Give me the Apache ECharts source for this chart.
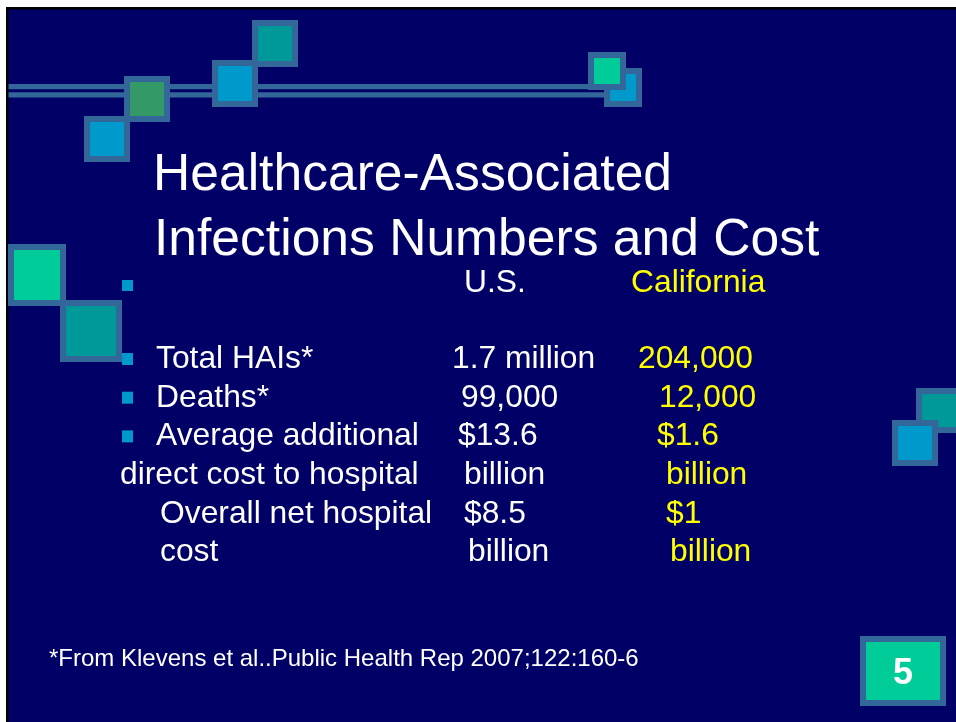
<!DOCTYPE html>
<html>
<head>
<meta charset="utf-8">
<script src="https://cdn.jsdelivr.net/npm/echarts@6/dist/echarts.min.js"></script>
<style>
html,body{margin:0;padding:0;background:#ffffff;}
#chart{width:956px;height:722px;}
</style>
</head>
<body>
<div id="chart"></div>
<script>
// ---- content ----
const titleLines = ['Healthcare-Associated', 'Infections Numbers and Cost'];
const columnHeaders = ['U.S.', 'California'];
const rowLabels = ['Total HAIs*', 'Deaths*', 'Average additional', 'direct cost to hospital', 'Overall net hospital', 'cost'];
const bulletRows = [true, true, true, false, false, false];
const usValues = ['1.7 million', '99,000', '$13.6', 'billion', '$8.5', 'billion'];
const caValues = ['204,000', '12,000', '$1.6', 'billion', '$1', 'billion'];
const footnote = '*From Klevens et al..Public Health Rep 2007;122:160-6';
const slideNumber = '5';

// ---- layout (kept apart from content) ----
const NAVY = '#000066', EDGE = '#336699', BLUE = '#0099CC', TEAL = '#009999', MINT = '#00CC99', GREEN = '#339966';
const labelX = [156, 156, 156, 120, 160, 160];
const usX = [452, 461, 458, 464, 464, 468];
const caX = [638, 659, 657, 666, 666, 670];
const rowBase0 = 369, rowStep = 38.7;
const bodyFont = 31.8, FONT = '"Liberation Sans", Arial, sans-serif';

const deco = [
  [84, 116, 130, 162, BLUE],
  [124, 76, 170, 122, GREEN],
  [212, 60, 258, 107, BLUE],
  [252, 20, 298, 67, TEAL],
  [604, 68, 642, 107, BLUE],
  [588, 52, 626, 90, MINT],
  [8, 244, 66, 306, MINT],
  [60, 300, 122, 362, TEAL],
  [916, 388, 962, 433, TEAL],
  [892, 420, 938, 466, BLUE]
];

function txt(str, x, baseline, size, color, weight, align) {
  return {
    type: 'text', x: x, y: baseline - size * 0.31, silent: true,
    style: {
      text: str, fill: color,
      font: (weight || 'normal') + ' ' + size + 'px ' + FONT,
      align: align || 'left', textAlign: align || 'left',
      verticalAlign: 'middle', textVerticalAlign: 'middle'
    }
  };
}
function box(x0, y0, x1, y1, color, inset) {
  return [
    { type: 'rect', silent: true, shape: { x: x0, y: y0, width: x1 - x0, height: y1 - y0 }, style: { fill: EDGE } },
    { type: 'rect', silent: true, shape: { x: x0 + inset, y: y0 + inset, width: x1 - x0 - 2 * inset, height: y1 - y0 - 2 * inset }, style: { fill: color } }
  ];
}

const els = [];
els.push({ type: 'rect', silent: true, shape: { x: 6, y: 7, width: 960, height: 720 }, style: { fill: '#000000' } });
els.push({ type: 'rect', silent: true, shape: { x: 8.5, y: 9.5, width: 960, height: 720 }, style: { fill: NAVY } });
// horizontal rails
els.push({ type: 'rect', silent: true, shape: { x: 8.5, y: 84, width: 598, height: 5.3 }, style: { fill: EDGE } });
els.push({ type: 'rect', silent: true, shape: { x: 8.5, y: 92.3, width: 598, height: 5.3 }, style: { fill: EDGE } });
deco.forEach(d => { box(d[0], d[1], d[2], d[3], d[4], 6).forEach(e => els.push(e)); });

// title
els.push(txt(titleLines[0], 153, 192, 51.6, '#ffffff'));
els.push(txt(titleLines[1], 154, 257, 51.6, '#ffffff'));

// header row
els.push({ type: 'rect', silent: true, shape: { x: 122, y: 280, width: 11, height: 11 }, style: { fill: BLUE } });
els.push(txt(columnHeaders[0], 464, 293, bodyFont, '#ffffff'));
els.push(txt(columnHeaders[1], 631, 293, bodyFont, '#ffff00'));

rowLabels.forEach((lab, i) => {
  const b = rowBase0 + i * rowStep;
  if (bulletRows[i]) {
    els.push({ type: 'rect', silent: true, shape: { x: 122, y: b - 16, width: 11, height: 12 }, style: { fill: BLUE } });
  }
  els.push(txt(lab, labelX[i], b, bodyFont, '#ffffff'));
  els.push(txt(usValues[i], usX[i], b, bodyFont, '#ffffff'));
  els.push(txt(caValues[i], caX[i], b, bodyFont, '#ffff00'));
});

// footnote
els.push(txt(footnote, 49, 667, 24, '#ffffff'));
// slide number box
box(860, 636, 946, 706, MINT, 6).forEach(e => els.push(e));
els.push(txt(slideNumber, 903, 685, 36, '#ffffff', 'bold', 'center'));

const chart = echarts.init(document.getElementById('chart'), null, { renderer: 'canvas' });
chart.setOption({ backgroundColor: '#ffffff', animation: false, graphic: { elements: els } });
</script>
</body>
</html>
